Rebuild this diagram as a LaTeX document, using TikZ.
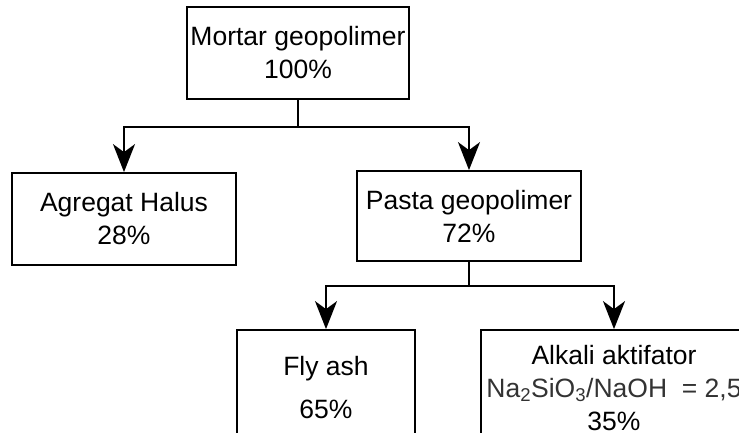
\documentclass[tikz,border=0pt]{standalone}
\usepackage{fontspec}
\setmainfont{Liberation Sans}
\usetikzlibrary{arrows.meta}

\begin{document}
\begin{tikzpicture}[x=1pt,y=-1pt,
        box/.style={draw,line width=1.8pt,align=center,inner sep=0pt,
            font=\fontsize{26.5}{33}\selectfont},
        link/.style={line width=1.8pt,-{Stealth[length=28pt,width=22pt,inset=8pt]}}]
        \useasboundingbox (0,0) rectangle (739,432);
        \clip (0,0) rectangle (739,432);
        \node[box,minimum width=222pt,minimum height=92pt] (mortar) at (298,53) {Mortar geopolimer\\100\%};
        \node[box,minimum width=224pt,minimum height=92pt] (agregat) at (124,219) {Agregat Halus\\28\%};
        \node[box,minimum width=224pt,minimum height=90pt] (pasta) at (469,216) {Pasta geopolimer\\72\%};
        \node[box,minimum width=178pt,minimum height=116pt] (flyash) at (326,388) {Fly ash\\[10pt]65\%};
        \node[box,minimum width=266pt,minimum height=116pt] (alkali) at (614,388) {Alkali aktifator\\
            {\color{black!80}Na\textsubscript{2}SiO\textsubscript{3}/NaOH\ \ = 2,5}\\35\%};
        \draw[link] (mortar.south) -- ++(0,27) -| (agregat.north);
        \draw[link] (mortar.south) -- ++(0,27) -| (pasta.north);
        \draw[link] (pasta.south) -- ++(0,24) -| (flyash.north);
        \draw[link] (pasta.south) -- ++(0,24) -| (alkali.north);
\end{tikzpicture}
\end{document}
